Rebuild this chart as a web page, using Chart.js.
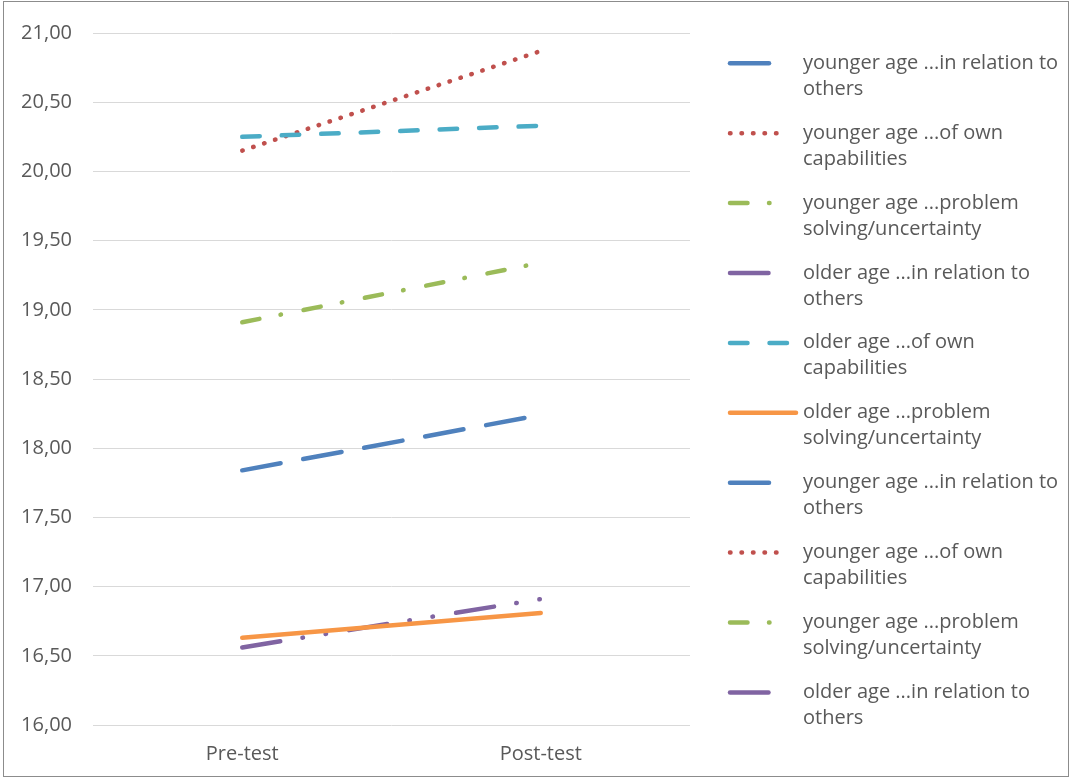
<!DOCTYPE html>
<html>
<head>
<meta charset="utf-8">
<script src="https://cdn.jsdelivr.net/npm/chart.js@4.4.1/dist/chart.umd.min.js"></script>
<style>
  html, body { margin: 0; padding: 0; background: #ffffff; }
  #wrap { position: relative; width: 1070px; height: 778px; }
  #frame { position: absolute; left: 3px; top: 1px; width: 1064px; height: 774px;
           border: 1px solid #8c8c8c; pointer-events: none; }
</style>
</head>
<body>
<div id="wrap">
  <canvas id="chart" width="1070" height="778"></canvas>
  <div id="frame"></div>
</div>
<script>
// Categories and value axis ticks
const categories = ['Pre-test', 'Post-test'];
const yTickValues = [16, 16.5, 17, 17.5, 18, 18.5, 19, 19.5, 20, 20.5, 21];

// Series values (Pre-test, Post-test)
const youngerRelation     = [17.84, 18.24];
const youngerCapabilities = [20.15, 20.87];
const youngerProblem      = [18.91, 19.34];
const olderRelation       = [16.56, 16.91];
const olderCapabilities   = [20.25, 20.33];
const olderProblem        = [16.63, 16.81];

// Legend texts, already split into their two lines
const seriesLabels = [
  ['younger age ...in relation to', 'others'],
  ['younger age ...of own', 'capabilities'],
  ['younger age ...problem', 'solving/uncertainty'],
  ['older age ...in relation to', 'others'],
  ['older age ...of own', 'capabilities'],
  ['older age ...problem', 'solving/uncertainty'],
  ['younger age ...in relation to', 'others'],
  ['younger age ...of own', 'capabilities'],
  ['younger age ...problem', 'solving/uncertainty'],
  ['older age ...in relation to', 'others']
];

// Line styles
const BLUE = '#4F81BD', RED = '#C0504D', GREEN = '#9BBB59',
      PURPLE = '#8064A2', CYAN = '#4BACC6', ORANGE = '#F79646';
const LONG_DASH = [39, 23];
const DOT = [0.5, 11];
const DASH_DOT = [17.5, 21.5, 0.5, 23];
const LONG_DASH_DOT_DOT = [38.5, 22.5, 0.5, 22.9, 0.5, 23.4];
const DASH = [17.5, 22];

function series(i, data, color, dash) {
  return {
    label: seriesLabels[i].join(' '),
    lines: seriesLabels[i],
    data: data,
    borderColor: color,
    backgroundColor: color,
    borderWidth: 4.5,
    borderDash: dash,
    borderCapStyle: 'round',
    borderJoinStyle: 'round',
    pointRadius: 0,
    pointHoverRadius: 0,
    fill: false,
    tension: 0,
    order: 10 - i // later series are painted on top
  };
}

const datasets = [
  series(0, youngerRelation, BLUE, LONG_DASH),
  series(1, youngerCapabilities, RED, DOT),
  series(2, youngerProblem, GREEN, DASH_DOT),
  series(3, olderRelation, PURPLE, LONG_DASH_DOT_DOT),
  series(4, olderCapabilities, CYAN, DASH),
  series(5, olderProblem, ORANGE, []),
  // legend-only entries without values
  series(6, [], BLUE, LONG_DASH),
  series(7, [], RED, DOT),
  series(8, [], GREEN, DASH_DOT),
  series(9, [], PURPLE, LONG_DASH_DOT_DOT)
];

const TEXT_COLOR = '#595959';
const FONT_FAMILY = '"Open Sans", "DejaVu Sans", sans-serif';

// Two-line legend drawn to the right of the plot
const sideLegend = {
  id: 'sideLegend',
  afterDraw(chart) {
    const ctx = chart.ctx;
    const x0 = chart.chartArea.right + 40;
    ctx.save();
    chart.data.datasets.forEach((ds, i) => {
      const y = 63.3 + i * 69.9;
      const dash = ds.borderDash || [];
      // solid keys run a little longer than patterned ones
      const len = dash.length ? 57.5 : 66;
      ctx.beginPath();
      ctx.strokeStyle = ds.borderColor;
      ctx.lineWidth = ds.borderWidth;
      ctx.lineCap = 'round';
      ctx.setLineDash(dash);
      ctx.moveTo(x0, y);
      ctx.lineTo(x0 + len, y);
      ctx.stroke();
      ctx.setLineDash([]);
      ctx.fillStyle = TEXT_COLOR;
      ctx.font = '20px ' + FONT_FAMILY;
      ctx.textAlign = 'left';
      ctx.textBaseline = 'alphabetic';
      ds.lines.forEach((t, k) => ctx.fillText(t, x0 + 73, y + 5.5 + k * 26));
    });
    ctx.restore();
  }
};

function draw() {
  new Chart(document.getElementById('chart'), {
    type: 'line',
    data: { labels: categories, datasets: datasets },
    plugins: [sideLegend],
    options: {
      responsive: false,
      animation: false,
      devicePixelRatio: 1,
      layout: { padding: { left: 10, top: 29, right: 380, bottom: 0 } },
      plugins: {
        legend: { display: false },
        tooltip: { enabled: false }
      },
      scales: {
        x: {
          offset: true,
          grid: { display: false },
          border: { display: false },
          ticks: {
            color: TEXT_COLOR,
            font: { family: FONT_FAMILY, size: 20 },
            padding: 9
          },
          afterFit(scale) { scale.height = 53; }
        },
        y: {
          min: 16,
          max: 21,
          grid: { color: '#d9d9d9', lineWidth: 1, drawTicks: false },
          border: { display: false },
          afterBuildTicks(scale) { scale.ticks = yTickValues.map(v => ({ value: v })); },
          ticks: {
            color: TEXT_COLOR,
            font: { family: FONT_FAMILY, size: 20 },
            padding: 21,
            callback: v => Number(v).toFixed(2).replace('.', ',')
          },
          afterFit(scale) { scale.width = 83; }
        }
      }
    }
  });
}

if (document.fonts && document.fonts.load) {
  document.fonts.load('20px "Open Sans"').then(draw, draw);
} else {
  draw();
}
</script>
</body>
</html>
